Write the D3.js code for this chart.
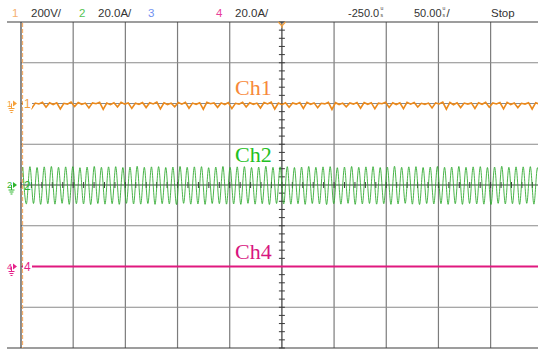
<!DOCTYPE html>
<html>
<head>
<meta charset="utf-8">
<script src="https://cdn.jsdelivr.net/npm/d3@7"></script>
<style>
  body { margin: 0; background: #fff; }
  text { font-family: "Liberation Sans", Arial, sans-serif; }
</style>
</head>
<body>
<div id="scope"></div>
<script>
//screen size
var svgWidth = 538;
var svgHeight = 351;

//scope settings
var timePerDiv = 50;      // us/div
var ch1PerDiv = 200;      // V/div
var ch2PerDiv = 20;       // A/div
var ch4PerDiv = 20;       // A/div

//header labels
var headerLabels = ["1", "200V/", "2", "20.0A/", "3", "4", "20.0A/", "-250.0", "50.00", "Stop"];

//Ch1 voltage samples (V), one every half period of Ch2
var ch1Values = [
    3,-4,5,-24, 2,-2,6,-18, 4,-5,3,-27, 1,-3,7,-15, 5,-4,2,-22,
    3,-1,6,-29, 2,-6,4,-17, 6,-3,3,-24, 1,-4,5,-20, 4,-2,7,-26,
    3,-5,2,-16, 5,-3,6,-23, 2,-4,4,-28, 6,-1,3,-19, 3,-5,5,-25,
    1,-3,6,-17, 4,-4,2,-22, 5,-2,7,-27, 2,-6,4,-18, 3,-3,5,-24,
    6,-4,3,-21, 1,-2,6,-29, 4,-5,2,-16, 3,-3,5,-23, 5,-4,4,-26,
    2,-1,6,-19, 4,-5,3,-25, 6,-3,5,-17, 1,-4,2,-22, 3,-2,7,-28,
    5,-6,4,-20, 2,-3,3,-24, 4,-4,6,-18, 3,-2,5,-26, 6,-5,2,-21,
    1,-3,4,-27, 4,-4
];

//Ch2 current peaks (A), alternating crest / trough
var ch2Peaks = [
    8.8,-9.3, 9.0,-9.1, 8.6,-9.5, 8.9,-9.2, 9.1,-9.4, 8.7,-9.0, 8.9,-9.5, 9.0,-9.2, 8.5,-9.3, 8.8,-9.6,
    9.1,-9.1, 8.7,-9.4, 8.9,-9.2, 9.0,-9.5, 8.6,-9.0, 8.8,-9.3, 9.2,-9.4, 8.7,-9.1, 8.9,-9.5, 9.0,-9.2,
    8.6,-9.3, 8.8,-9.6, 9.1,-9.0, 8.7,-9.4, 8.9,-9.3, 9.0,-9.5, 8.5,-9.1, 8.8,-9.2, 9.1,-9.4, 8.7,-9.3,
    8.9,-9.5, 9.0,-9.0, 8.6,-9.4, 8.8,-9.2, 9.2,-9.6, 8.7,-9.1, 8.9,-9.3, 9.0,-9.4, 8.6,-9.2, 8.8,-9.5,
    9.1,-9.1, 8.7,-9.3, 8.9,-9.6, 9.0,-9.2, 8.5,-9.4, 8.8,-9.0, 9.1,-9.5, 8.7,-9.3, 8.9,-9.1, 9.0,-9.4,
    8.6,-9.2, 8.8,-9.5, 9.2,-9.3, 8.7,-9.0, 8.9,-9.4, 9.0,-9.6, 8.6,-9.1, 8.8,-9.3, 9.1,-9.2, 8.7,-9.5,
    8.8,-9.2, 9.1,-9.5, 8.7,-9.1, 8.9,-9.3, 9.0,-9.4, 8.6,-9.6, 8.8,-9.0, 9.2,-9.3, 8.7,-9.2, 8.9,-9.5,
    8.9,-9.0, 9.0,-9.4, 8.5,-9.3
];

//Ch4 flat trace (A)
var ch4Times = [0, 500];
var ch4Values = [0, 0];

//sample spacing (us) and start of Ch2 capture
var sampleStep = 3.425;
var ch2Start = 1.7;

//colours
var ch1Color = "#ec8a1c";
var ch2Color = "#2aa82a";
var ch4Color = "#e0197f";

//append svg
var svg = d3.select("#scope").append("svg")
    .attr("width", svgWidth)
    .attr("height", svgHeight)
    .style("display", "block");

svg.append("rect").attr("width", svgWidth).attr("height", svgHeight).attr("fill", "#fff");

//scales: 10 horizontal, 8 vertical divisions
var xScale = d3.scaleLinear().domain([0, 10 * timePerDiv]).range([21, 542.8]);
var divScale = d3.scaleLinear().domain([-4, 4]).range([348, 22]);
var ch1Scale = d3.scaleLinear().domain([-6 * ch1PerDiv, 2 * ch1PerDiv]).range([348, 22]);
var ch2Scale = d3.scaleLinear().domain([-4 * ch2PerDiv, 4 * ch2PerDiv]).range([348, 22]);
var ch4Scale = d3.scaleLinear().domain([-2 * ch4PerDiv, 6 * ch4PerDiv]).range([348, 22]);

//grid
var gridGroup = svg.append("g");

gridGroup.selectAll(".vline")
    .data(d3.range(1, 10).filter(d => d !== 5))
    .enter()
    .append("line")
    .attr("x1", d => xScale(d * timePerDiv))
    .attr("x2", d => xScale(d * timePerDiv))
    .attr("y1", divScale(4))
    .attr("y2", divScale(-4))
    .attr("stroke", "#7c7c7c")
    .attr("stroke-width", 1.2);

gridGroup.selectAll(".hline")
    .data([-3, -2, -1, 1, 2, 3])
    .enter()
    .append("line")
    .attr("x1", xScale(0))
    .attr("x2", svgWidth)
    .attr("y1", d => divScale(d))
    .attr("y2", d => divScale(d))
    .attr("stroke", "#8a8a8a")
    .attr("stroke-width", 1.2);

//centre lines with minor ticks
var cx = xScale(5 * timePerDiv);
var cy = divScale(0);
gridGroup.append("line")
    .attr("x1", cx).attr("x2", cx)
    .attr("y1", divScale(4)).attr("y2", divScale(-4))
    .attr("stroke", "#3a3a3a").attr("stroke-width", 1.2);
gridGroup.append("line")
    .attr("x1", xScale(0)).attr("x2", svgWidth)
    .attr("y1", cy).attr("y2", cy)
    .attr("stroke", "#3a3a3a").attr("stroke-width", 1.2);

gridGroup.selectAll(".ytick")
    .data(d3.range(-4, 4.01, 0.2))
    .enter()
    .append("line")
    .attr("x1", cx - 3).attr("x2", cx + 3)
    .attr("y1", d => divScale(d)).attr("y2", d => divScale(d))
    .attr("stroke", "#3a3a3a");

gridGroup.selectAll(".xtick")
    .data(d3.range(0, 10.01, 0.2))
    .enter()
    .append("line")
    .attr("x1", d => xScale(d * timePerDiv)).attr("x2", d => xScale(d * timePerDiv))
    .attr("y1", cy - 3).attr("y2", cy + 3)
    .attr("stroke", "#3a3a3a");

//outer frame: top, bottom, left
gridGroup.append("line")
    .attr("x1", 7).attr("x2", svgWidth).attr("y1", divScale(4)).attr("y2", divScale(4))
    .attr("stroke", "#3c3c3c").attr("stroke-width", 1.2);
gridGroup.append("line")
    .attr("x1", 7).attr("x2", svgWidth).attr("y1", divScale(-4)).attr("y2", divScale(-4))
    .attr("stroke", "#3c3c3c").attr("stroke-width", 1.2);
gridGroup.append("line")
    .attr("x1", xScale(0)).attr("x2", xScale(0)).attr("y1", divScale(4)).attr("y2", divScale(-4))
    .attr("stroke", "#3c3c3c").attr("stroke-width", 1.2);

//trigger reference (dashed)
svg.append("line")
    .attr("x1", xScale(0) + 1.5).attr("x2", xScale(0) + 1.5)
    .attr("y1", divScale(4) + 1).attr("y2", divScale(-4))
    .attr("stroke", "#f6b06c")
    .attr("stroke-width", 1.3)
    .attr("stroke-dasharray", "4,2");

//clip to the screen area
svg.append("clipPath").attr("id", "screen")
    .append("rect")
    .attr("x", xScale(0) + 1)
    .attr("y", divScale(4))
    .attr("width", svgWidth - xScale(0))
    .attr("height", divScale(-4) - divScale(4));

var traces = svg.append("g").attr("clip-path", "url(#screen)");

//Ch2 sine
var ch2Line = d3.line()
    .x((d, i) => xScale(ch2Start + i * sampleStep))
    .y(d => ch2Scale(d))
    .curve(d3.curveMonotoneX);

traces.append("path")
    .datum(ch2Peaks)
    .attr("d", ch2Line)
    .attr("fill", "none")
    .attr("stroke", ch2Color)
    .attr("stroke-opacity", 0.85)
    .attr("stroke-width", 1);

//Ch1 noisy voltage
var ch1Line = d3.line()
    .x((d, i) => xScale(i * sampleStep))
    .y(d => ch1Scale(d));

traces.append("path")
    .datum(ch1Values)
    .attr("d", ch1Line)
    .attr("fill", "none")
    .attr("stroke", ch1Color)
    .attr("stroke-width", 1.6);

//Ch4 flat
var ch4Line = d3.line()
    .x((d, i) => xScale(ch4Times[i]))
    .y(d => ch4Scale(d));

traces.append("path")
    .datum(ch4Values)
    .attr("d", ch4Line)
    .attr("fill", "none")
    .attr("stroke", ch4Color)
    .attr("stroke-width", 1.8);

//channel names
var nameData = [
    {name: "Ch1", y: 95, color: "#f7893a"},
    {name: "Ch2", y: 162, color: "#22c022"},
    {name: "Ch4", y: 259, color: "#d8167f"}
];
svg.selectAll(".chName")
    .data(nameData)
    .enter()
    .append("text")
    .attr("x", 235)
    .attr("y", d => d.y)
    .style("font-family", "'Liberation Serif', 'DejaVu Serif', serif")
    .style("font-size", "22px")
    .attr("fill", d => d.color)
    .text(d => d.name);

//channel ground markers at the left edge
var markerData = [
    {label: "1", y: ch1Scale(0), color: "#f5a03c", box: true},
    {label: "2", y: ch2Scale(0), color: "#2db52d", box: false},
    {label: "4", y: ch4Scale(0), color: "#e6218a", box: true}
];
var markers = svg.selectAll(".marker")
    .data(markerData)
    .enter()
    .append("g")
    .attr("transform", d => `translate(0, ${d.y})`);

markers.filter(d => d.box).append("rect")
    .attr("x", 23).attr("y", -5).attr("width", 9).attr("height", 10)
    .attr("fill", "#fff");

markers.append("text")
    .attr("x", 7).attr("y", 3)
    .style("font-size", "9px")
    .attr("fill", d => d.color)
    .text(d => d.label);

markers.append("path")
    .attr("d", "M13,-3L17,0L13,3Z")
    .attr("fill", d => d.color);

markers.append("path")
    .attr("d", "M11.5,0V5M8.5,5H14.5M9.5,7H13.5M10.5,9H12.5")
    .attr("fill", "none")
    .attr("stroke", d => d.color);

markers.append("text")
    .attr("x", 24).attr("y", 4.5)
    .style("font-size", "12px")
    .attr("fill", d => d.color)
    .text(d => d.label);

//trigger marker at top centre
svg.append("path")
    .attr("d", `M${cx - 3.5},${divScale(4)}L${cx},${divScale(4) + 4}L${cx + 3.5},${divScale(4)}M${cx},${divScale(4) + 4}V${divScale(4) + 6}`)
    .attr("fill", "none")
    .attr("stroke", "#f2a040")
    .attr("stroke-width", 1.3);

//header
var headerX = [12, 31, 79, 98, 148, 216, 235, 348, 414, 491];
var headerSize = [11.5, 11.5, 11.5, 11.5, 11.5, 11.5, 11.5, 11, 11, 11.5];
var headerColors = ["#f5b070", "#333", "#55c455", "#333", "#7090f0", "#e8409a", "#333", "#333", "#333", "#333"];

svg.selectAll(".header")
    .data(headerLabels)
    .enter()
    .append("text")
    .attr("x", (d, i) => headerX[i])
    .attr("y", 17)
    .style("font-size", (d, i) => headerSize[i] + "px")
    .attr("fill", (d, i) => headerColors[i])
    .text(d => d);

//tiny stacked "us" unit marks after the time values
var unitX = [380.5, 442.5];
unitX.forEach(function(x, i) {
    svg.append("text").attr("x", x).attr("y", 10).style("font-size", "5px").attr("fill", "#333").text("u");
    svg.append("text").attr("x", x).attr("y", 16.5).style("font-size", "5px").attr("fill", "#333").text("s");
    if (i === 1) {
        svg.append("text").attr("x", x + 4).attr("y", 17).style("font-size", "11.5px").attr("fill", "#333").text("/");
    }
});
</script>
</body>
</html>
